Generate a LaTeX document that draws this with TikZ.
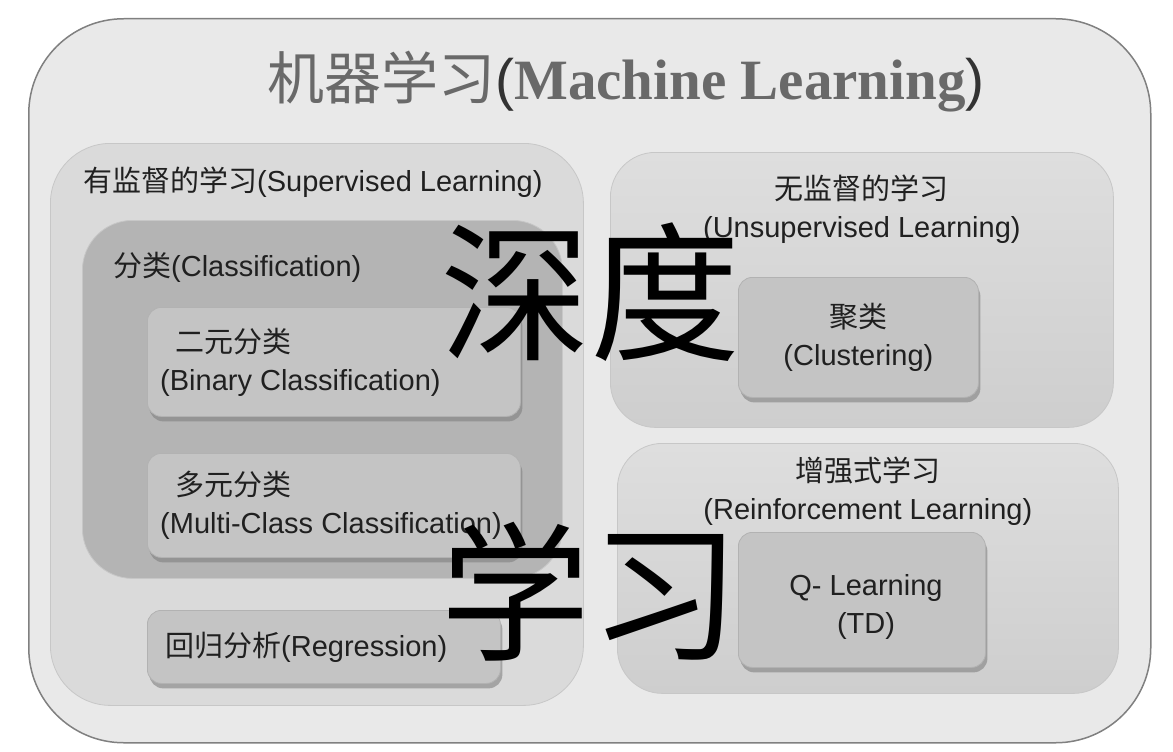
\documentclass[tikz,border=0pt]{standalone}
\usepackage{fontspec}
\setmainfont{Liberation Sans}
\newfontfamily\cjk{Noto Sans CJK SC}
\newfontfamily\serifbf{Liberation Serif}
\usepackage{tikz}
\usetikzlibrary{positioning,shadows}
\definecolor{pagebg}{RGB}{233,233,233}
\definecolor{supfill}{RGB}{218,218,218}
\definecolor{clsfill}{RGB}{180,180,180}
\definecolor{itemfill}{RGB}{196,196,196}
\definecolor{unstop}{RGB}{222,222,222}
\definecolor{unsbot}{RGB}{206,206,206}
\definecolor{titlegray}{RGB}{105,105,105}
\definecolor{textdark}{RGB}{32,32,32}
\tikzstyle{panel} = [rectangle, anchor=north west, draw=black!22, line width=0.8pt,
    inner sep=0pt]
\tikzstyle{item} = [panel, rounded corners=14pt, fill=itemfill, draw=black!30,
    drop shadow={shadow xshift=2pt, shadow yshift=-5pt, opacity=0.6}]
\tikzstyle{lbl} = [inner sep=0pt, font=\fontsize{29}{38}\selectfont, text=textdark]
\tikzstyle{wm} = [inner sep=0pt, font=\cjk\fontsize{150}{150}\selectfont, text=black]

\begin{document}
\begin{tikzpicture}[x=1pt, y=-1pt]
\useasboundingbox (0,0) rectangle (1173,752);

% ── Machine learning ────
\node[panel, rounded corners=95pt, fill=pagebg, draw=black!50, line width=1.5pt,
    minimum width=1122pt, minimum height=724pt] (ml) at (28,18) {};
\node[inner sep=0pt, font=\fontsize{57}{60}\selectfont, text=black!80] (title) at (626,82)
    {{\cjk\color{titlegray}机器学习}(\textcolor{titlegray}{\serifbf\bfseries Machine Learning})};

% ── Supervised ────
\node[panel, rounded corners=60pt, fill=supfill, minimum width=533pt, minimum height=562pt] (sup) at (50,143) {};
\node[lbl, anchor=west] (suplbl) at (83,182) {{\cjk 有监督的学习}(Supervised Learning)};

\node[panel, rounded corners=50pt, fill=clsfill, minimum width=480pt, minimum height=358pt] (cls) at (82,220) {};
\node[lbl, anchor=west] (clslbl) at (113,267) {{\cjk 分类}(Classification)};

\node[item, minimum width=373pt, minimum height=109pt] (bin) at (147,307) {};
\node[lbl, align=left, right=13pt of bin.west] (bintxt) {\hspace*{15pt}{\cjk 二元分类}\\(Binary Classification)};

\node[item, minimum width=373pt, minimum height=104pt] (multi) at (147,453) {};
\node[lbl, align=left, right=13pt of multi.west] (multitxt) {\hspace*{15pt}{\cjk 多元分类}\\(Multi-Class Classification)};

\node[item, minimum width=353pt, minimum height=73pt] (reg) at (147,610) {};
\node[lbl, right=18pt of reg.west] (regtxt) {{\cjk 回归分析}(Regression)};

% ── Unsupervised ────
\node[panel, rounded corners=45pt, top color=unstop, bottom color=unsbot,
    minimum width=503pt, minimum height=275pt] (uns) at (610,152) {};
\node[lbl, align=center, below=23pt of uns.north] (unslbl) {{\cjk 无监督的学习}\\(Unsupervised Learning)};

\node[item, minimum width=240pt, minimum height=120pt] (clu) at (738,277) {};
\node[lbl, align=center] (clutxt) at (clu.center) {{\cjk 聚类}\\(Clustering)};

% ── Reinforcement ────
\node[panel, rounded corners=45pt, top color=unstop, bottom color=unsbot,
    minimum width=501pt, minimum height=250pt] (rl) at (617,443) {};
\node[lbl, align=center, below=14pt of rl.north] (rllbl) {{\cjk 增强式学习}\\(Reinforcement Learning)};

\node[item, minimum width=247pt, minimum height=135pt] (ql) at (738,532) {};
\node[lbl, align=center] (qltxt) at (866,607) {Q- Learning\\(TD)};

% ── Watermark ────
\node[wm] (shendu) at (590,292) {深度};
\node[wm] (xuexi) at (590,592) {学习};

\end{tikzpicture}
\end{document}
